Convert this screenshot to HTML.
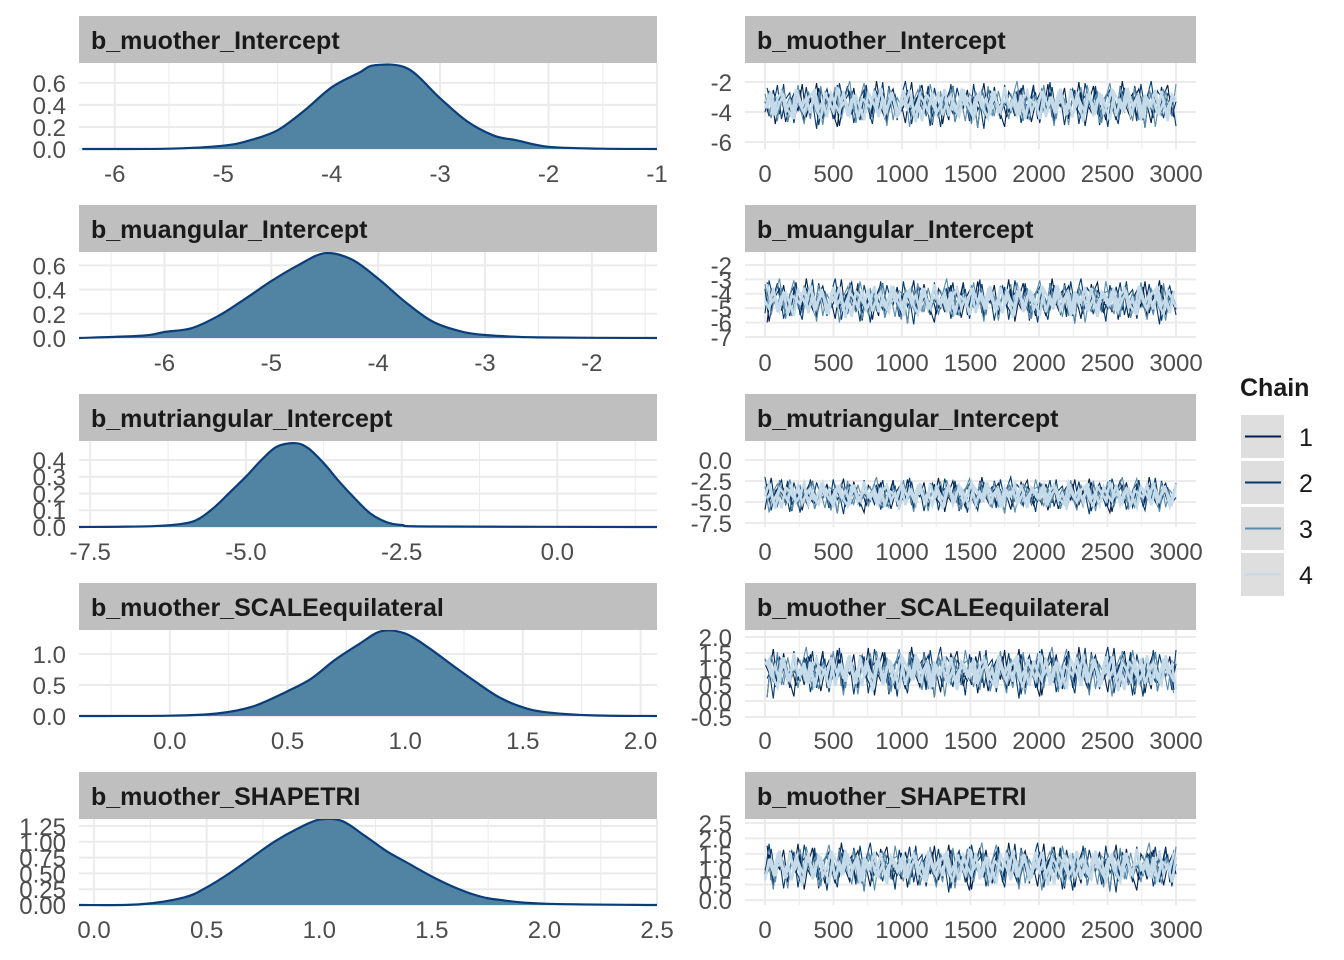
<!DOCTYPE html>
<html><head><meta charset="utf-8"><style>
html,body{margin:0;padding:0;background:#fff;}
svg{display:block;font-family:"Liberation Sans Narrow","Liberation Sans",sans-serif;}
</style></head><body>
<svg id="chart" width="1344" height="960" viewBox="0 0 1344 960" xmlns="http://www.w3.org/2000/svg"></svg>
<script>
const params = ["b_muother_Intercept","b_muangular_Intercept","b_mutriangular_Intercept","b_muother_SCALEequilateral","b_muother_SHAPETRI"];
const densX = [
 [-6.3,-5.5,-5,-4.75,-4.5,-4.25,-4,-3.75,-3.6,-3.3,-3,-2.75,-2.5,-2.3,-2,-1.5,-1],
 [-6.8,-6.2,-6,-5.75,-5.5,-5.25,-5,-4.75,-4.5,-4.25,-4,-3.75,-3.5,-3.25,-3,-2.5,-1.39],
 [-7.68,-6.5,-6,-5.75,-5.5,-5.25,-5,-4.75,-4.5,-4.2,-4,-3.75,-3.5,-3.25,-3,-2.75,-2.5,-2,1.6],
 [-0.386,0,0.2,0.35,0.5,0.6,0.7,0.8,0.9,1.0,1.1,1.2,1.3,1.4,1.5,1.6,1.8,2.07],
 [-0.067,0.2,0.4,0.5,0.6,0.7,0.8,0.9,1.0,1.1,1.2,1.3,1.4,1.5,1.6,1.7,1.8,2.0,2.5]
];
const densY = [
 [0,0.003,0.03,0.08,0.17,0.35,0.56,0.69,0.76,0.73,0.46,0.25,0.12,0.08,0.02,0.003,0],
 [0,0.02,0.05,0.08,0.18,0.32,0.47,0.6,0.70,0.65,0.49,0.3,0.14,0.06,0.025,0.005,0],
 [0,0.005,0.02,0.05,0.12,0.21,0.3,0.4,0.48,0.50,0.47,0.38,0.27,0.17,0.08,0.03,0.012,0.003,0],
 [0,0.005,0.04,0.15,0.4,0.6,0.9,1.15,1.37,1.33,1.1,0.82,0.55,0.3,0.14,0.06,0.01,0],
 [0,0.01,0.12,0.28,0.5,0.75,1.0,1.2,1.35,1.33,1.1,0.85,0.65,0.45,0.28,0.15,0.08,0.02,0]
];
const densXDomain = [[-6.33,-1],[-6.8,-1.39],[-7.68,1.6],[-0.386,2.07],[-0.067,2.5]];
const densYMax = [0.78,0.71,0.513,1.387,1.36];
const densXTicks = [[-6,-5,-4,-3,-2,-1],[-6,-5,-4,-3,-2],[-7.5,-5.0,-2.5,0.0],[0.0,0.5,1.0,1.5,2.0],[0.0,0.5,1.0,1.5,2.0,2.5]];
const densXTickLabels = [["-6","-5","-4","-3","-2","-1"],["-6","-5","-4","-3","-2"],["-7.5","-5.0","-2.5","0.0"],["0.0","0.5","1.0","1.5","2.0"],["0.0","0.5","1.0","1.5","2.0","2.5"]];
const densYTicks = [[0,0.2,0.4,0.6],[0,0.2,0.4,0.6],[0,0.1,0.2,0.3,0.4],[0,0.5,1.0],[0,0.25,0.5,0.75,1.0,1.25]];
const densYTickLabels = [["0.0","0.2","0.4","0.6"],["0.0","0.2","0.4","0.6"],["0.0","0.1","0.2","0.3","0.4"],["0.0","0.5","1.0"],["0.00","0.25","0.50","0.75","1.00","1.25"]];
const traceYDomain = [[-6.47,-0.73],[-7.07,-1.1],[-7.98,2.26],[-0.47,2.22],[-0.16,2.63]];
const traceYTicks = [[-6,-4,-2],[-7,-6,-5,-4,-3,-2],[-7.5,-5.0,-2.5,0.0],[-0.5,0.0,0.5,1.0,1.5,2.0],[0.0,0.5,1.0,1.5,2.0,2.5]];
const traceYTickLabels = [["-6","-4","-2"],["-7","-6","-5","-4","-3","-2"],["-7.5","-5.0","-2.5","0.0"],["-0.5","0.0","0.5","1.0","1.5","2.0"],["0.0","0.5","1.0","1.5","2.0","2.5"]];
const traceMean = [-3.5,-4.5,-4.2,0.9,1.07];
const traceSd = [0.65,0.65,0.9,0.33,0.33];
const iterTicks = [0,500,1000,1500,2000,2500,3000];
const chainA = [0.3,-1.2,1.5,-0.4,0.8,-1.8,0.2,1.1,-0.7,2.1,-1.3,0.5,-0.2,1.7,-1.5,0.9,-0.6,1.3,-2.2,0.4,1.9,-0.9,0.1,-1.6,1.2,0.6,-1.1,2.4,-0.3,-1.4,0.7,1.6,-0.8,0.0,-1.9,1.4,-0.5,0.9,2.0,-1.2,0.3,-0.7,1.1,-2.0,0.6,1.8,-1.0,0.2,-0.4,1.5,-1.7,0.8,-0.1,2.2,-1.3,0.4,1.0,-0.9,-2.3,1.3,0.5,-0.6,1.7,-1.1,0.0,2.0,-1.5,0.7,-0.3,1.2,-1.8,0.9,0.3,-1.0,1.6,-0.5,2.3,-1.4,0.1,-0.8,1.4,-2.1,0.6,1.0,-0.2,-1.6,1.9,-0.7,0.4,1.1,-1.2,0.8,-2.4,1.5,0.2,-0.9,1.8,-0.4,0.5,-1.3];
const chainB = [-0.8,1.4,-0.2,2.0,-1.5,0.6,1.2,-1.9,0.3,-0.6,1.8,-1.1,0.9,-2.1,0.5,1.6,-0.4,-1.3,2.2,0.1,-0.9,1.0,-1.7,0.7,1.5,-0.5,-2.0,1.3,0.4,-1.2,1.9,-0.1,-1.6,0.8,2.4,-0.7,0.2,-1.4,1.1,0.6,-2.2,1.7,-0.3,0.9,-1.0,2.1,-1.8,0.0,1.4,-0.6,-1.1,1.2,0.3,-2.5,1.6,-0.2,0.7,-1.5,2.0,-0.8,0.5,1.3,-1.9,0.1,-0.4,1.8,-1.2,0.9,-0.7,2.3,-1.6,0.2,1.0,-1.0,-0.3,1.5,-2.0,0.6,1.1,-0.5,1.9,-1.3,0.4,-2.3,1.2,0.0,-0.9,1.7,-0.1,0.8,-1.7,2.1,-0.6,0.3,-1.4,1.4,0.7,-1.1,0.5,-0.2];
const chainC = [1.1,-0.9,0.4,-1.7,1.6,-0.3,0.8,-1.2,2.0,-0.6,0.2,-1.5,1.3,0.5,-2.1,0.9,-0.1,1.8,-1.0,0.3,-0.7,1.4,-1.9,0.6,2.2,-0.4,-1.3,1.0,0.1,-0.8,1.7,-1.6,0.7,-0.2,1.2,-2.3,0.5,1.5,-0.5,-1.1,2.1,0.0,-1.4,0.9,-0.6,1.6,-1.8,0.4,1.1,-0.3,-2.0,1.3,0.2,-0.9,1.9,-1.2,0.6,-0.4,1.4,-1.5,0.8,2.4,-0.7,0.1,-1.6,1.0,-0.2,1.7,-1.1,0.3,-2.2,1.2,0.7,-0.8,1.5,-0.5,0.0,-1.3,2.0,-0.1,0.9,-1.9,0.5,1.3,-0.6,-1.0,1.8,-0.3,0.4,-1.7,1.1,0.6,-2.4,1.6,-0.2,0.2,-1.2,1.4,-0.5,0.8];
const chainD = [-0.4,0.9,-1.1,0.6,1.3,-0.7,0.2,-1.5,1.0,-0.2,0.7,-0.9,1.6,-0.5,0.3,-1.3,1.1,0.0,-0.8,1.4,-1.2,0.5,0.9,-0.3,-1.6,1.2,0.4,-0.6,1.7,-1.0,0.1,0.8,-1.4,0.6,-0.1,1.5,-0.8,0.3,-1.7,1.0,0.5,-0.4,1.3,-1.1,0.2,0.9,-0.6,-1.2,1.6,0.0,-0.9,0.7,1.2,-0.5,-1.4,1.1,0.3,-0.7,1.8,-0.2,0.4,-1.0,1.0,-1.5,0.6,0.2,-0.3,1.4,-1.3,0.8,-0.6,1.1,0.1,-1.1,1.5,-0.4,0.5,-1.8,0.9,0.3,-0.7,1.2,-0.9,0.0,1.6,-1.2,0.4,-0.5,1.3,-0.1,0.7,-1.6,1.0,-0.3,0.6,-1.0,1.4,-0.8,0.2,0.5];
const chains = [chainA, chainB, chainC, chainD];
const chainColors = ["#011f4b","#03396c","#5a8cab","#c6dbe9"];
const chainLabels = ["1","2","3","4"];

const NS="http://www.w3.org/2000/svg";
const svg=document.getElementById('chart');
function mk(tag,attrs,parent){const e=document.createElementNS(NS,tag);for(const k in attrs)e.setAttribute(k,attrs[k]);(parent||svg).appendChild(e);return e;}
function txt(s,attrs,parent){const e=mk('text',attrs,parent);e.textContent=s;return e;}
function smooth(pts){let d='M'+pts[0][0]+','+pts[0][1];for(let i=0;i<pts.length-1;i++){const p0=pts[Math.max(0,i-1)],p1=pts[i],p2=pts[i+1],p3=pts[Math.min(pts.length-1,i+2)];const c1x=p1[0]+(p2[0]-p0[0])/6,c1y=p1[1]+(p2[1]-p0[1])/6,c2x=p2[0]-(p3[0]-p1[0])/6,c2y=p2[1]-(p3[1]-p1[1])/6;d+=' C'+c1x.toFixed(1)+','+c1y.toFixed(1)+' '+c2x.toFixed(1)+','+c2y.toFixed(1)+' '+p2[0].toFixed(1)+','+p2[1].toFixed(1);}return d;}

const LX0=79,LX1=657,RX0=745,RX1=1196,PITCH=189,STRIP=47,PH=86;
for(let p=0;p<5;p++){
  const yS=16+PITCH*p, top=yS+STRIP, bot=top+PH;
  const g=mk('g',{});
  
  
  const [dx0,dx1]=densXDomain[p];
  const sx=v=>LX0+(v-dx0)/(dx1-dx0)*(LX1-LX0);
  const sy=v=>bot-v/densYMax[p]*PH;
  const xt=densXTicks[p];
  const step=xt[1]-xt[0];
  for(let v=xt[0]-step/2;v<=dx1;v+=step){if(v>=dx0)mk('line',{x1:sx(v),x2:sx(v),y1:top,y2:bot,stroke:'#ebebeb','stroke-width':1},g);}
  xt.forEach(v=>{const x=sx(v);if(x<=LX1+1)mk('line',{x1:x,x2:x,y1:top,y2:bot,stroke:'#ebebeb','stroke-width':2},g);});
  densYTicks[p].forEach(v=>mk('line',{x1:LX0,x2:LX1,y1:sy(v),y2:sy(v),stroke:'#ebebeb','stroke-width':2},g));
  const pts=densX[p].map((x,i)=>[sx(x),sy(densY[p][i])]);
  const line=smooth(pts);
  const area=mk('path',{d:line+' L'+pts[pts.length-1][0]+','+bot+' L'+pts[0][0]+','+bot+' Z',fill:'#5084a2',stroke:'none'},g);
  
  
  const dl=mk('path',{d:line,fill:'none',stroke:'#0a3d7a','stroke-width':2.2},g);
  
  
  const strip=mk('rect',{x:LX0,y:yS,width:LX1-LX0,height:STRIP,fill:'#bfbfbf'},g);
  
  
  const st=txt(params[p],{x:LX0+12,y:yS+33,'font-size':25,'font-weight':'bold',fill:'#1a1a1a'},g);
  
  
  densYTicks[p].forEach((v,i)=>{const t=txt(densYTickLabels[p][i],{x:66,y:sy(v)+9,'font-size':24,'text-anchor':'end',fill:'#4d4d4d'},g);
    
    });
  xt.forEach((v,i)=>{const t=txt(densXTickLabels[p][i],{x:sx(v),y:bot+33,'font-size':24,'text-anchor':'middle',fill:'#4d4d4d'},g);
    
    });

  const h=mk('g',{});
  
  
  const [ty0,ty1]=traceYDomain[p];
  const tx=v=>765+v/3000*(1176-765);
  const ty=v=>bot-(v-ty0)/(ty1-ty0)*PH;
  for(let v=250;v<3000;v+=500)mk('line',{x1:tx(v),x2:tx(v),y1:top,y2:bot,stroke:'#ebebeb','stroke-width':1},h);
  iterTicks.forEach(v=>mk('line',{x1:tx(v),x2:tx(v),y1:top,y2:bot,stroke:'#ebebeb','stroke-width':2},h));
  traceYTicks[p].forEach(v=>mk('line',{x1:RX0,x2:RX1,y1:ty(v),y2:ty(v),stroke:'#ebebeb','stroke-width':2},h));
  chains.forEach((c,ci)=>{
    const n=c.length, off=(p*17)%n;
    for(let pass=0;pass<2;pass++){
      let d='';
      const o2=(off+pass*41)%n;
      for(let i=0;i<n;i++){const v=traceMean[p]+traceSd[p]*c[(i+o2)%n];d+=(i?'L':'M')+tx((i+pass*0.5)/(n-0.5)*3000).toFixed(1)+','+ty(v).toFixed(1);}
      const pl=mk('path',{d:d,fill:'none',stroke:chainColors[ci],'stroke-width':ci==3?2.6:1.1},h);
      
      
    }
  });
  const strip2=mk('rect',{x:RX0,y:yS,width:RX1-RX0,height:STRIP,fill:'#bfbfbf'},h);
  
  
  const st2=txt(params[p],{x:RX0+12,y:yS+33,'font-size':25,'font-weight':'bold',fill:'#1a1a1a'},h);
  
  
  traceYTicks[p].forEach((v,i)=>{const t=txt(traceYTickLabels[p][i],{x:732,y:ty(v)+9,'font-size':24,'text-anchor':'end',fill:'#4d4d4d'},h);
    
    });
  iterTicks.forEach(v=>{const t=txt(String(v),{x:tx(v),y:bot+33,'font-size':24,'text-anchor':'middle',fill:'#4d4d4d'},h);
    
    });
}
const lg=mk('g',{});


const lt=txt('Chain',{x:1240,y:396,'font-size':25,'font-weight':'bold',fill:'#1a1a1a'},lg);


chainLabels.forEach((l,i)=>{
  const y=415+46*i;
  const k=mk('rect',{x:1241,y:y,width:43,height:43,fill:'#dedede'},lg);
  
  
  mk('line',{x1:1245,x2:1281,y1:y+21.5,y2:y+21.5,stroke:chainColors[i],'stroke-width':2},lg);
  const t=txt(l,{x:1299,y:y+31,'font-size':25,fill:'#1a1a1a'},lg);
  
  
});
</script>
</body></html>
